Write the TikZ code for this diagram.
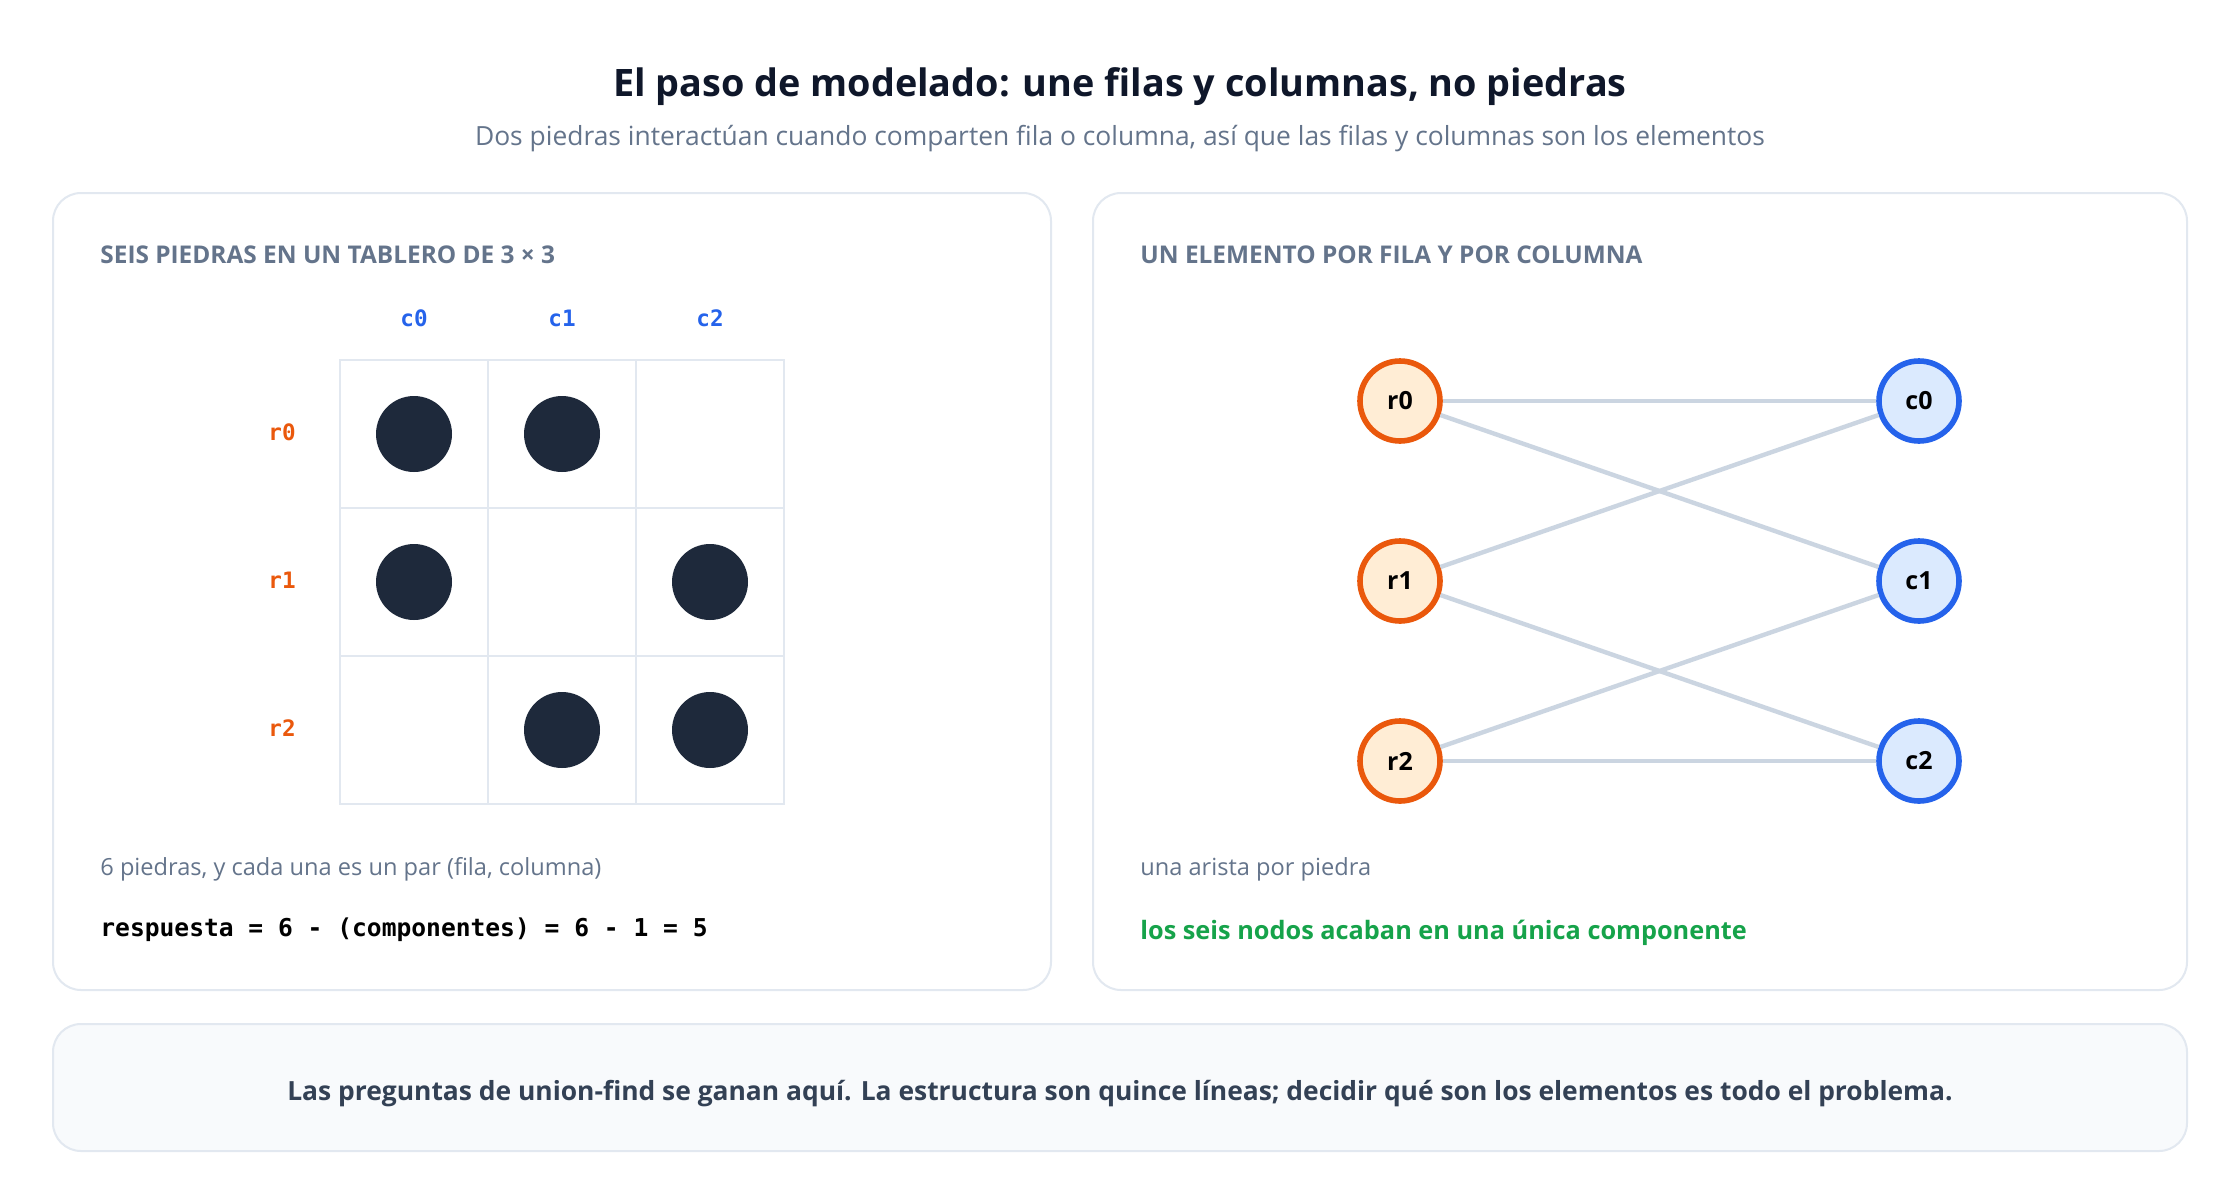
\documentclass[tikz,border=0pt]{standalone}
\usepackage{fontspec}
\setmainfont{Open Sans}
\setmonofont{DejaVu Sans Mono}
\usetikzlibrary{positioning}
\definecolor{titlecol}{HTML}{0F172A}
\definecolor{subcol}{HTML}{64748B}
\definecolor{panelline}{HTML}{E2E8F0}
\definecolor{stonecol}{HTML}{1E293B}
\definecolor{rowcol}{HTML}{EA580C}
\definecolor{rowfill}{HTML}{FFEDD5}
\definecolor{colcol}{HTML}{2563EB}
\definecolor{colfill}{HTML}{DBEAFE}
\definecolor{edgecol}{HTML}{CBD5E1}
\definecolor{okcol}{HTML}{16A34A}
\definecolor{notefill}{HTML}{F8FAFC}
\definecolor{notetext}{HTML}{334155}

\begin{document}
\begin{tikzpicture}[x=0.5pt,y=-0.5pt,
panel/.style={draw=panelline,line width=1pt,rounded corners=14pt},
cell/.style={draw=panelline,line width=1pt,minimum size=74pt,inner sep=0pt},
stone/.style={circle,fill=stonecol,minimum size=38pt,inner sep=0pt},
head/.style={anchor=west,inner sep=0pt,text=subcol,font=\bfseries\fontsize{12.2}{14}\selectfont},
body/.style={anchor=west,inner sep=0pt,text=subcol,font=\fontsize{11.8}{14}\selectfont},
collab/.style={text=colcol,font=\ttfamily\bfseries\fontsize{11.3}{13}\selectfont},
rowlab/.style={text=rowcol,font=\ttfamily\bfseries\fontsize{11.3}{13}\selectfont},
rnode/.style={circle,draw=rowcol,fill=rowfill,line width=2.8pt,minimum size=40pt,inner sep=0pt,
  font=\bfseries\fontsize{12.5}{14}\selectfont},
cnode/.style={rnode,draw=colcol,fill=colfill},
edge/.style={draw=edgecol,line width=2.2pt},
]
\useasboundingbox (0,0) rectangle (2240,1200);
\fill[white] (0,0) rectangle (2240,1200);

\node (title) at (1120,87) {\color{titlecol}\bfseries\fontsize{18.9}{22}\selectfont El paso de modelado: une filas y columnas, no piedras};
\node (subtitle) at (1120,139) {\color{subcol}\fontsize{13.2}{16}\selectfont Dos piedras interactúan cuando comparten fila o columna, así que las filas y columnas son los elementos};

% left panel: the board
\draw[panel] (53,193) rectangle (1051,990);
\node (lhead) [head] at (100,255) {SEIS PIEDRAS EN UN TABLERO DE 3 × 3};
\node (c00) [cell] at (414,434) {};
\node (c01) [cell] at (562,434) {};
\node (c02) [cell] at (710,434) {};
\node (c10) [cell] at (414,582) {};
\node (c11) [cell] at (562,582) {};
\node (c12) [cell] at (710,582) {};
\node (c20) [cell] at (414,730) {};
\node (c21) [cell] at (562,730) {};
\node (c22) [cell] at (710,730) {};
\node (lc0) [collab] at (414,318) {c0};
\node (lc1) [collab] at (562,318) {c1};
\node (lc2) [collab] at (710,318) {c2};
\node (lr0) [rowlab] at (282,432) {r0};
\node (lr1) [rowlab] at (282,580) {r1};
\node (lr2) [rowlab] at (282,728) {r2};
\node (s00) [stone] at (c00) {};
\node (s01) [stone] at (c01) {};
\node (s10) [stone] at (c10) {};
\node (s12) [stone] at (c12) {};
\node (s21) [stone] at (c21) {};
\node (s22) [stone] at (c22) {};
\node (lnote) [body] at (100,869) {6 piedras, y cada una es un par (fila, columna)};
\node (answer) [anchor=west,inner sep=0pt,font=\ttfamily\bfseries\fontsize{12.3}{14}\selectfont] at (100,930) {respuesta = 6 - (componentes) = 6 - 1 = 5};

% right panel: the graph
\draw[panel] (1093,193) rectangle (2187,990);
\node (rhead) [head] at (1140,255) {UN ELEMENTO POR FILA Y POR COLUMNA};
\node (r0) [rnode] at (1400,401) {r0};
\node (r1) [rnode] at (1400,581) {r1};
\node (r2) [rnode] at (1400,761) {r2};
\node (c0) [cnode] at (1919,401) {c0};
\node (c1) [cnode] at (1919,581) {c1};
\node (c2) [cnode] at (1919,761) {c2};
\draw[edge] (r0) -- (c0);
\draw[edge] (r0) -- (c1);
\draw[edge] (r1) -- (c0);
\draw[edge] (r1) -- (c2);
\draw[edge] (r2) -- (c1);
\draw[edge] (r2) -- (c2);
\node (rnote) [body] at (1140,869) {una arista por piedra};
\node (verdict) [anchor=west,inner sep=0pt,text=okcol,font=\bfseries\fontsize{12.65}{15}\selectfont] at (1140,933) {los seis nodos acaban en una única componente};

% bottom note
\draw[panel,fill=notefill] (53,1024) rectangle (2187,1151);
\node (moral) [text=notetext,font=\bfseries\fontsize{13.2}{16}\selectfont] at (1120,1094) {Las preguntas de union-find se ganan aquí. La estructura son quince líneas; decidir qué son los elementos es todo el problema.};
\end{tikzpicture}
\end{document}
